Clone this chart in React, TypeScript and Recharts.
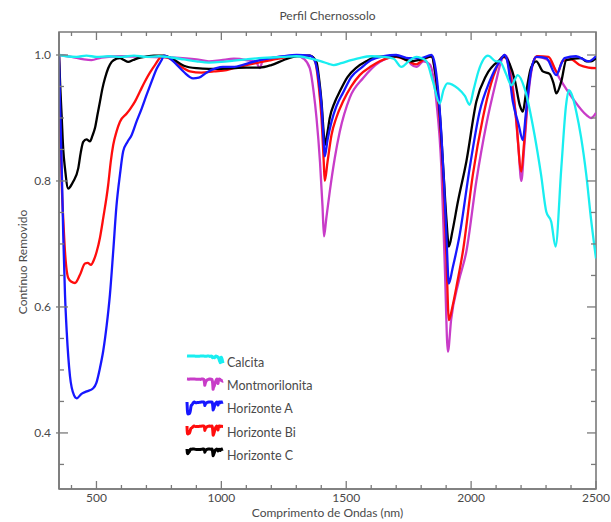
import React from "react";
import { LineChart, Line, XAxis, YAxis, ReferenceArea } from "recharts";

// [wavelength nm, continuum removed reflectance]
const calcita = [
  [350, 1.0], [380, 0.998], [420, 0.997], [460, 0.999], [500, 0.997], [550, 0.998], [600, 0.997],
  [650, 0.999], [700, 0.997], [750, 0.998], [800, 0.996], [850, 0.993], [900, 0.99], [950, 0.988],
  [1000, 0.989], [1050, 0.991], [1100, 0.993], [1150, 0.995], [1200, 0.996], [1250, 0.997], [1300, 0.998],
  [1350, 0.995], [1400, 0.99], [1430, 0.986], [1450, 0.984], [1480, 0.987], [1520, 0.992], [1560, 0.996],
  [1600, 0.998], [1650, 0.997], [1690, 0.994], [1721, 0.981], [1750, 0.99], [1781, 0.997], [1800, 0.995],
  [1821, 0.99], [1847, 0.958], [1874, 0.923], [1890, 0.945], [1905, 0.955], [1947, 0.947], [1975, 0.935],
  [1994, 0.921], [2010, 0.945], [2030, 0.975], [2067, 0.999], [2101, 0.99], [2114, 0.99], [2140, 0.97],
  [2161, 0.952], [2187, 0.968], [2214, 0.947], [2254, 0.873], [2280, 0.81], [2301, 0.751], [2321, 0.735],
  [2338, 0.696], [2361, 0.82], [2380, 0.92], [2391, 0.944], [2405, 0.935], [2421, 0.91], [2440, 0.87],
  [2461, 0.81], [2480, 0.74], [2500, 0.677],
];

const montmorilonita = [
  [350, 1.0], [400, 0.997], [450, 0.993], [480, 0.992], [520, 0.996], [600, 0.998], [700, 0.997],
  [800, 0.996], [900, 0.993], [950, 0.99], [1000, 0.992], [1050, 0.994], [1100, 0.992], [1140, 0.988],
  [1154, 0.979], [1165, 0.99], [1200, 0.995], [1250, 0.998], [1300, 0.999], [1330, 0.994], [1354, 0.979],
  [1370, 0.94], [1381, 0.9], [1395, 0.83], [1405, 0.76], [1411, 0.712], [1420, 0.74], [1434, 0.783],
  [1454, 0.836], [1474, 0.878], [1514, 0.932], [1567, 0.963], [1634, 0.989], [1700, 0.997], [1740, 0.995],
  [1760, 0.985], [1781, 0.981], [1810, 0.99], [1835, 0.985], [1861, 0.926], [1881, 0.82], [1895, 0.66],
  [1907, 0.529], [1920, 0.58], [1950, 0.64], [1981, 0.688], [2021, 0.8], [2061, 0.89], [2101, 0.96],
  [2120, 0.99], [2134, 1.0], [2150, 0.99], [2170, 0.94], [2190, 0.85], [2201, 0.8], [2212, 0.85],
  [2230, 0.94], [2250, 0.99], [2261, 0.997], [2314, 0.99], [2354, 0.963], [2407, 0.931], [2461, 0.905],
  [2480, 0.9], [2500, 0.908],
];

const horizonteA = [
  [350, 1.0], [354, 0.926], [361, 0.82], [367, 0.714], [374, 0.62], [381, 0.56], [394, 0.49], [410, 0.46],
  [421, 0.455], [440, 0.462], [461, 0.466], [487, 0.471], [500, 0.48], [514, 0.503], [527, 0.53],
  [541, 0.571], [554, 0.62], [567, 0.688], [580, 0.76], [594, 0.81], [607, 0.847], [624, 0.862],
  [641, 0.873], [661, 0.895], [681, 0.915], [701, 0.937], [721, 0.958], [741, 0.978], [761, 0.992],
  [770, 0.999], [790, 0.996], [820, 0.985], [850, 0.973], [887, 0.963], [910, 0.964], [940, 0.972],
  [980, 0.979], [1006, 0.981], [1046, 0.981], [1100, 0.986], [1154, 0.992], [1200, 0.995], [1250, 0.998],
  [1301, 1.0], [1354, 0.999], [1375, 0.99], [1390, 0.96], [1401, 0.92], [1410, 0.86], [1414, 0.839],
  [1425, 0.865], [1441, 0.894], [1460, 0.918], [1487, 0.94], [1520, 0.965], [1561, 0.98], [1600, 0.992],
  [1650, 0.998], [1700, 1.0], [1750, 0.995], [1800, 0.995], [1841, 1.0], [1855, 0.985], [1867, 0.947],
  [1881, 0.873], [1891, 0.8], [1901, 0.714], [1911, 0.637], [1925, 0.66], [1954, 0.714], [1994, 0.82],
  [2034, 0.91], [2074, 0.958], [2114, 0.99], [2134, 1.0], [2145, 0.99], [2167, 0.926], [2190, 0.89],
  [2207, 0.865], [2220, 0.91], [2240, 0.975], [2261, 0.997], [2301, 0.995], [2341, 0.968], [2360, 0.985],
  [2374, 0.995], [2420, 0.998], [2470, 0.99], [2500, 0.998],
];

const horizonteBi = [
  [350, 1.0], [355, 0.9], [361, 0.794], [367, 0.74], [374, 0.688], [387, 0.646], [400, 0.64], [414, 0.638],
  [434, 0.651], [454, 0.669], [465, 0.67], [478, 0.667], [490, 0.675], [501, 0.688], [514, 0.71],
  [527, 0.741], [547, 0.794], [557, 0.83], [567, 0.857], [580, 0.878], [594, 0.894], [621, 0.907],
  [636, 0.915], [654, 0.926], [674, 0.942], [694, 0.958], [714, 0.972], [734, 0.984], [761, 0.997],
  [790, 0.995], [830, 0.984], [874, 0.974], [920, 0.972], [970, 0.974], [1021, 0.976], [1060, 0.98],
  [1100, 0.984], [1150, 0.988], [1200, 0.992], [1250, 0.996], [1300, 0.999], [1354, 0.999], [1375, 0.99],
  [1390, 0.95], [1401, 0.9], [1410, 0.83], [1414, 0.8], [1425, 0.83], [1441, 0.873], [1460, 0.9],
  [1487, 0.926], [1520, 0.95], [1554, 0.968], [1600, 0.982], [1634, 0.99], [1700, 0.997], [1750, 0.99],
  [1780, 0.985], [1810, 0.993], [1841, 0.998], [1857, 0.97], [1874, 0.9], [1890, 0.79], [1901, 0.68],
  [1911, 0.579], [1925, 0.6], [1945, 0.64], [1967, 0.688], [2007, 0.81], [2047, 0.9], [2080, 0.955],
  [2101, 0.979], [2125, 0.997], [2140, 0.995], [2160, 0.96], [2180, 0.9], [2201, 0.815], [2212, 0.86],
  [2230, 0.95], [2250, 0.99], [2265, 0.998], [2310, 0.997], [2347, 0.972], [2365, 0.99], [2400, 0.993],
  [2434, 0.984], [2470, 0.98], [2500, 0.979],
];

const horizonteC = [
  [350, 1.0], [355, 0.95], [361, 0.9], [367, 0.85], [374, 0.82], [387, 0.788], [397, 0.792], [407, 0.799],
  [427, 0.82], [437, 0.845], [447, 0.862], [460, 0.866], [474, 0.863], [484, 0.872], [494, 0.884],
  [504, 0.905], [514, 0.926], [524, 0.947], [534, 0.963], [547, 0.979], [561, 0.989], [580, 0.994],
  [594, 0.995], [610, 0.992], [627, 0.989], [647, 0.992], [667, 0.995], [694, 0.997], [730, 0.999],
  [770, 0.999], [800, 0.995], [850, 0.983], [901, 0.979], [950, 0.978], [1000, 0.978], [1050, 0.979],
  [1100, 0.98], [1154, 0.98], [1200, 0.984], [1250, 0.992], [1300, 0.998], [1354, 0.999], [1381, 0.989],
  [1392, 0.96], [1401, 0.926], [1410, 0.875], [1414, 0.857], [1424, 0.875], [1434, 0.9], [1454, 0.925],
  [1474, 0.942], [1505, 0.965], [1541, 0.98], [1580, 0.99], [1621, 0.997], [1700, 0.998], [1760, 0.99],
  [1800, 0.993], [1841, 0.998], [1857, 0.97], [1874, 0.91], [1890, 0.81], [1901, 0.74], [1911, 0.696],
  [1925, 0.72], [1947, 0.767], [1981, 0.831], [2021, 0.926], [2061, 0.968], [2114, 0.992], [2134, 0.998],
  [2155, 0.985], [2175, 0.96], [2195, 0.92], [2207, 0.91], [2220, 0.94], [2240, 0.98], [2261, 0.99],
  [2287, 0.974], [2314, 0.97], [2330, 0.955], [2341, 0.939], [2361, 0.958], [2381, 0.992], [2441, 0.995],
  [2461, 0.99], [2480, 0.99], [2500, 0.995],
];

const xTicks = [400, 500, 600, 700, 800, 900, 1000, 1100, 1200, 1300, 1400, 1500, 1600, 1700, 1800, 1900, 2000, 2100, 2200, 2300, 2400, 2500];
const xLabels = [500, 1000, 1500, 2000, 2500];
const yTicks = [0.35, 0.4, 0.45, 0.5, 0.55, 0.6, 0.65, 0.7, 0.75, 0.8, 0.85, 0.9, 0.95, 1.0];
const yLabels = [0.4, 0.6, 0.8, 1.0];

const series = [
  { name: "Calcita", color: "#19eef0", rows: calcita },
  { name: "Montmorilonita", color: "#c83cc8", rows: montmorilonita },
  { name: "Horizonte A", color: "#1717ff", rows: horizonteA },
  { name: "Horizonte Bi", color: "#ff0d0d", rows: horizonteBi },
  { name: "Horizonte C", color: "#000000", rows: horizonteC },
];
// drawing order (last on top)
const drawOrder = ["Montmorilonita", "Horizonte Bi", "Horizonte C", "Horizonte A", "Calcita"];

const W = 611;
const H = 522;
const M = { top: 32, right: 15, bottom: 0, left: 0 };
const domainX: [number, number] = [350, 2500];
const domainY: [number, number] = [0.311, 1.0365];

const axisColor = "#7a7a7a";
const textColor = "#4a4a4a";
const font = "Lato, 'Open Sans', sans-serif";

const toPts = (rows: number[][]) => rows.map(([nm, v]) => ({ nm, v }));

// bottom tick + mirrored tick on the top edge of the frame
function BottomTick({ x, y, payload }: any) {
  const major = xLabels.includes(payload.value);
  const len = major ? 8 : 4;
  return (
    <g>
      <line x1={x} x2={x} y1={y} y2={y - len} stroke={axisColor} strokeWidth={1.3} />
      <line x1={x} x2={x} y1={M.top} y2={M.top + len} stroke={axisColor} strokeWidth={1.3} />
      {major && (
        <text x={x} y={y + 13} textAnchor="middle" fontSize={12} fill={textColor} fontFamily={font}>
          {payload.value}
        </text>
      )}
    </g>
  );
}

// left tick + mirrored tick on the right edge of the frame
function LeftTick({ x, y, payload }: any) {
  const major = yLabels.includes(payload.value);
  const len = major ? 9 : 5;
  const right = W - M.right;
  return (
    <g>
      <line x1={x - (major ? 3 : 0)} x2={x + len} y1={y} y2={y} stroke={axisColor} strokeWidth={1.3} />
      <line x1={right} x2={right - len} y1={y} y2={y} stroke={axisColor} strokeWidth={1.3} />
      {major && (
        <text x={x - 8} y={y + 4} textAnchor="end" fontSize={12} fill={textColor} fontFamily={font}>
          {payload.value.toFixed(1)}
        </text>
      )}
    </g>
  );
}

function LegendIcon({ rows, color }: { rows: number[][]; color: string }) {
  const pts = rows.map(([nm, v]) => `${((nm - 350) / 2150) * 36 + 2},${(1 - v) * 22 + 2}`).join(" ");
  return (
    <svg width={40} height={16} style={{ display: "block" }}>
      <polyline points={pts} fill="none" stroke={color} strokeWidth={3} strokeLinejoin="round" />
    </svg>
  );
}

export default function App() {
  return (
    <div style={{ position: "absolute", left: 0, top: 0, width: W, height: H, background: "#fff", fontFamily: font }}>
      <LineChart width={W} height={H} margin={M}>
        <XAxis
          xAxisId="b"
          dataKey="nm"
          type="number"
          domain={domainX}
          allowDataOverflow
          ticks={xTicks}
          interval={0}
          height={33}
          tickSize={0}
          tickMargin={0}
          tickLine={false}
          tick={BottomTick}
          axisLine={{ stroke: axisColor, strokeWidth: 1.6 }}
        />
        <YAxis
          yAxisId="l"
          type="number"
          domain={domainY}
          allowDataOverflow
          ticks={yTicks}
          interval={0}
          width={59}
          tickSize={0}
          tickMargin={0}
          tickLine={false}
          tick={LeftTick}
          axisLine={{ stroke: axisColor, strokeWidth: 1.6 }}
        />
        {/* plot frame */}
        <ReferenceArea
          xAxisId="b"
          yAxisId="l"
          x1={domainX[0]}
          x2={domainX[1]}
          y1={domainY[0]}
          y2={domainY[1]}
          fill="none"
          fillOpacity={0}
          stroke={axisColor}
          strokeWidth={1.6}
          ifOverflow="visible"
        />
        {drawOrder.map((n) => {
          const s = series.find((q) => q.name === n)!;
          return (
            <Line
              key={n}
              xAxisId="b"
              yAxisId="l"
              data={toPts(s.rows)}
              dataKey="v"
              name={s.name}
              type="monotone"
              stroke={s.color}
              strokeWidth={2.3}
              dot={false}
              isAnimationActive={false}
            />
          );
        })}
      </LineChart>

      <div style={{ position: "absolute", left: 0, width: 655, top: 8, textAlign: "center", fontSize: 12, color: textColor }}>
        Perfil Chernossolo
      </div>
      <div style={{ position: "absolute", left: 0, width: 655, top: 505, textAlign: "center", fontSize: 12, color: textColor }}>
        Comprimento de Ondas (nm)
      </div>
      <div
        style={{
          position: "absolute",
          left: 22,
          top: 262,
          transform: "translate(-50%, -50%) rotate(-90deg)",
          whiteSpace: "nowrap",
          fontSize: 12,
          color: textColor,
        }}
      >
        Contínuo Removido
      </div>

      <div style={{ position: "absolute", left: 185, top: 354 }}>
        {series.map((s) => (
          <div key={s.name} style={{ display: "flex", alignItems: "flex-start", height: 23.2 }}>
            <LegendIcon rows={s.rows} color={s.color} />
            <span style={{ fontSize: 12.5, color: textColor, marginLeft: 2, lineHeight: "18px" }}>{s.name}</span>
          </div>
        ))}
      </div>
    </div>
  );
}
